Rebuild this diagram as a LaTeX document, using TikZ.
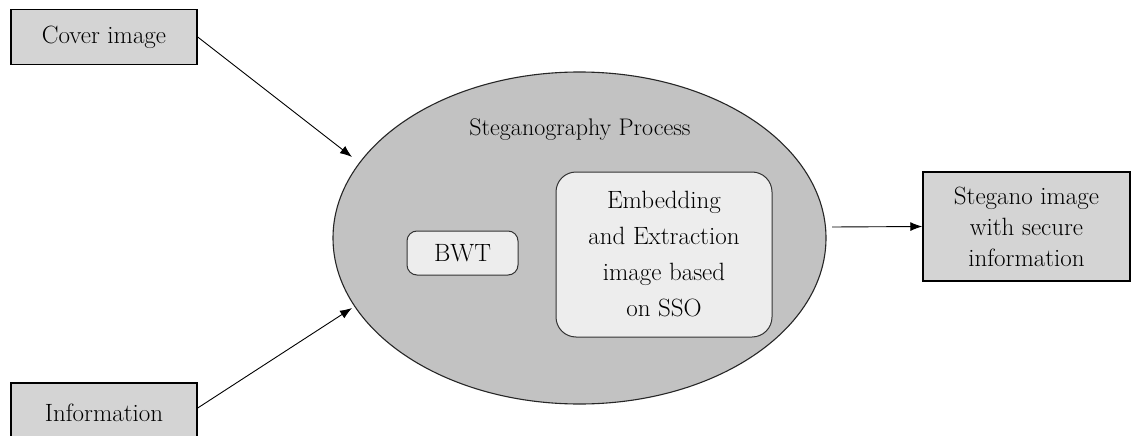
\documentclass[tikz,border=0pt]{standalone}
\usetikzlibrary{arrows.meta,shapes.geometric}
\begin{document}
\begin{tikzpicture}[x=1pt,y=-1pt,
  outbox/.style={draw=black, line width=1.4pt, fill=black!17, font=\fontsize{25}{31}\selectfont, align=center, inner sep=0pt},
  inbox/.style={draw=black!80, line width=1pt, fill=black!7, rounded corners=20pt, font=\fontsize{25}{36}\selectfont, align=center, inner sep=0pt},
  arr/.style={-{Latex[length=12pt,width=9pt]}, line width=0.9pt}]
\useasboundingbox (0,0) rectangle (1133,436);
\fill[white] (0,0) rectangle (1133,436);
\node[draw=black!85, line width=1.1pt, fill=black!24, ellipse, minimum width=493pt, minimum height=332pt, inner sep=0pt] (ell) at (579.5,238) {};
\node[font=\fontsize{24}{28}\selectfont] (title) at (580,130) {Steganography Process};
\node[outbox, minimum width=186pt, minimum height=55pt] (cover) at (104,37) {Cover image};
\node[outbox, minimum width=186pt, minimum height=60pt] (info) at (104,413) {Information};
\node[outbox, minimum width=207pt, minimum height=109pt] (out) at (1026.5,226.5) {Stegano image\\with secure\\information};
\node[inbox, rounded corners=10pt, minimum width=111pt, minimum height=44pt] (bwt) at (462.5,253) {BWT};
\node[inbox, minimum width=216pt, minimum height=165pt] (emb) at (664,254.5) {Embedding\\and Extraction\\image based\\on SSO};
\draw[arr] (cover.east) -- (352,157);
\draw[arr] (info.east |- 0,408) -- (352,308);
\draw[arr] (832,227) -- (out.west);
\end{tikzpicture}
\end{document}
